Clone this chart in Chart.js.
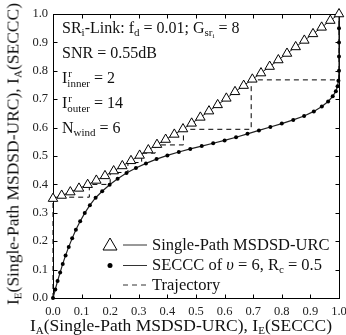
<!DOCTYPE html>
<html><head><meta charset="utf-8">
<script src="https://cdn.jsdelivr.net/npm/chart.js@4.4.1/dist/chart.umd.min.js"></script>
<style>
html,body{margin:0;padding:0;background:#fff;}
#wrap{position:relative;width:346px;height:335px;overflow:hidden;font-family:"Liberation Serif","DejaVu Serif",serif;color:#111;}
canvas{position:absolute;left:0;top:0;}
.t{position:absolute;white-space:nowrap;font-size:16px;line-height:16px;}
.lg{font-size:16.5px;line-height:16px;}
.ax{font-size:17.5px;line-height:17px;}
sub{font-size:11px;vertical-align:-3px;line-height:0;}
sup{font-size:11px;vertical-align:6px;line-height:0;}
.ss{display:inline-block;position:relative;}
.ss .up{position:absolute;left:1px;top:-5px;font-size:11px;}
.ss .dn{font-size:11px;position:relative;top:4px;}
</style></head>
<body>
<div id="wrap">
<canvas id="c" width="346" height="335"></canvas>
<div class="t" style="left:62px;top:20px;">SR<sub>i</sub>-Link: f<sub>d</sub> = 0.01; G<sub>sr<sub style="font-size:7px;vertical-align:-2px">i</sub></sub> = 8</div>
<div class="t" style="left:62px;top:45px;">SNR = 0.55dB</div>
<div class="t" style="left:62px;top:70px;">I<span class="ss"><span class="up">r</span><span class="dn">inner</span></span> = 2</div>
<div class="t" style="left:62px;top:95px;">I<span class="ss"><span class="up">r</span><span class="dn">outer</span></span> = 14</div>
<div class="t" style="left:62px;top:120px;">N<sub>wind</sub> = 6</div>
<div class="t lg" style="left:152px;top:237px;">Single-Path MSDSD-URC</div>
<div class="t lg" style="left:152px;top:257px;">SECCC of <i>υ</i> = 6, R<sub>c</sub> = 0.5</div>
<div class="t lg" style="left:152px;top:277px;">Trajectory</div>
<div class="t ax" style="left:181px;top:317px;transform:translateX(-50%);">I<sub>A</sub>(Single-Path MSDSD-URC), I<sub>E</sub>(SECCC)</div>
<div class="t ax" style="left:13px;top:154px;transform:translate(-50%,-50%) rotate(-90deg);">I<sub>E</sub>(Single-Path MSDSD-URC), I<sub>A</sub>(SECCC)</div>
</div>
<script>
// Single-Path MSDSD-URC curve (triangles)
const urcX = [0,0.0303,0.0606,0.0909,0.1212,0.1515,0.1818,0.2121,0.2424,0.2727,0.3030,0.3333,0.3636,0.3939,0.4242,0.4545,0.4848,0.5152,0.5455,0.5758,0.6061,0.6364,0.6667,0.6970,0.7273,0.7576,0.7879,0.8182,0.8485,0.8788,0.9091,0.9394,0.9697,1.0];
const urcY = [0.350,0.361,0.373,0.386,0.399,0.414,0.430,0.447,0.465,0.483,0.502,0.521,0.540,0.558,0.576,0.595,0.615,0.636,0.658,0.680,0.703,0.726,0.748,0.770,0.792,0.815,0.838,0.861,0.884,0.907,0.930,0.953,0.977,1.000];
// SECCC curve (dots)
const secX = [0,0.008,0.016,0.025,0.034,0.044,0.055,0.067,0.080,0.095,0.111,0.129,0.149,0.172,0.198,0.226,0.257,0.290,0.325,0.362,0.400,0.440,0.480,0.520,0.560,0.600,0.640,0.680,0.720,0.760,0.800,0.840,0.878,0.912,0.940,0.962,0.978,0.989,0.995,0.998,1.0,1.0,1.0,1.0,1.0];
const secY = [0,0.03,0.06,0.09,0.12,0.15,0.18,0.21,0.24,0.27,0.299,0.327,0.353,0.376,0.399,0.420,0.440,0.458,0.474,0.489,0.502,0.514,0.525,0.535,0.545,0.555,0.566,0.578,0.590,0.602,0.614,0.627,0.641,0.657,0.674,0.692,0.710,0.728,0.746,0.765,0.80,0.85,0.90,0.95,1.0];
// Decoding trajectory
const trajX = [0,0,0.127,0.127,0.200,0.200,0.262,0.262,0.310,0.310,0.357,0.357,0.456,0.456,0.693,0.693,1.0,1.0];
const trajY = [0,0.355,0.355,0.400,0.400,0.442,0.442,0.477,0.477,0.510,0.510,0.539,0.539,0.594,0.594,0.768,0.768,1.0];
const tickVals = [0,0.1,0.2,0.3,0.4,0.5,0.6,0.7,0.8,0.9,1.0];

const pts = (xs, ys) => xs.map((x, i) => ({x, y: ys[i]}));

const frame = {
  id: 'frame',
  beforeDatasetsDraw(chart) {
    const {ctx, chartArea: a, scales: {x, y}} = chart;
    ctx.save();
    ctx.strokeStyle = '#000'; ctx.lineWidth = 1;
    const L = Math.round(a.left) + 0.5, R = Math.round(a.right) + 0.5, T = Math.round(a.top) + 0.5, B = Math.round(a.bottom) + 0.5;
    ctx.strokeRect(L, T, R - L, B - T);
    ctx.beginPath();
    tickVals.forEach(v => {
      const px = Math.round(x.getPixelForValue(v)) + 0.5;
      ctx.moveTo(px, B); ctx.lineTo(px, B - 4);
      ctx.moveTo(px, T); ctx.lineTo(px, T + 4);
      const py = Math.round(y.getPixelForValue(v)) + 0.5;
      ctx.moveTo(L, py); ctx.lineTo(L + 4, py);
      ctx.moveTo(R, py); ctx.lineTo(R - 4, py);
    });
    ctx.stroke();
    ctx.restore();
  },
  afterDraw(chart) {
    const ctx = chart.ctx;
    ctx.save();
    ctx.strokeStyle = '#333'; ctx.lineWidth = 1;
    const rows = [245, 265.5, 285];
    ctx.beginPath();
    ctx.moveTo(123, rows[0]); ctx.lineTo(147, rows[0]);
    ctx.moveTo(123, rows[1]); ctx.lineTo(147, rows[1]);
    ctx.stroke();
    ctx.setLineDash([5, 4]);
    ctx.beginPath(); ctx.moveTo(123, rows[2]); ctx.lineTo(147, rows[2]); ctx.stroke();
    ctx.setLineDash([]);
    ctx.fillStyle = '#fff'; ctx.strokeStyle = '#000';
    ctx.beginPath();
    ctx.moveTo(110, rows[0] - 7); ctx.lineTo(117, rows[0] + 5); ctx.lineTo(103, rows[0] + 5); ctx.closePath();
    ctx.fill(); ctx.stroke();
    ctx.fillStyle = '#000';
    ctx.beginPath(); ctx.arc(110, rows[1], 2.5, 0, Math.PI * 2); ctx.fill();
    ctx.restore();
  }
};

new Chart(document.getElementById('c'), {
  type: 'scatter',
  data: {
    datasets: [
      {label: 'Trajectory', data: pts(trajX, trajY), showLine: true, borderColor: '#000', borderWidth: 1, borderDash: [5, 4], pointRadius: 0, fill: false, clip: false, order: 3},
      {label: 'SECCC', data: pts(secX, secY), showLine: true, borderColor: '#222', borderWidth: 1.2, pointRadius: 2, pointBackgroundColor: '#000', pointBorderColor: '#000', pointBorderWidth: 0, fill: false, clip: false, order: 2},
      {label: 'URC', data: pts(urcX, urcY), showLine: true, borderColor: '#222', borderWidth: 1, pointStyle: 'triangle', pointRadius: 5.5, pointBackgroundColor: '#fff', pointBorderColor: '#000', pointBorderWidth: 1, fill: false, clip: false, order: 1}
    ]
  },
  options: {
    responsive: false, animation: false, devicePixelRatio: 1,
    layout: {padding: {left: 0, top: 14, right: 7, bottom: 0}},
    plugins: {legend: {display: false}, tooltip: {enabled: false}},
    scales: {
      x: {type: 'linear', min: 0, max: 1,
        grid: {display: false, drawTicks: false}, border: {display: false},
        ticks: {stepSize: 0.1, padding: 6, color: '#222', font: {family: 'Liberation Serif', size: 12.5}, callback: v => v.toFixed(1), maxRotation: 0},
        afterFit(s) { s.height = 37; s.paddingLeft = 0; s.paddingRight = 0; }},
      y: {type: 'linear', min: 0, max: 1,
        grid: {display: false, drawTicks: false}, border: {display: false},
        ticks: {stepSize: 0.1, padding: 5, color: '#222', font: {family: 'Liberation Serif', size: 12.5}, callback: v => v.toFixed(1)},
        afterFit(s) { s.width = 53; s.paddingTop = 0; s.paddingBottom = 0; }}
    }
  },
  plugins: [frame]
});
</script>
</body></html>
